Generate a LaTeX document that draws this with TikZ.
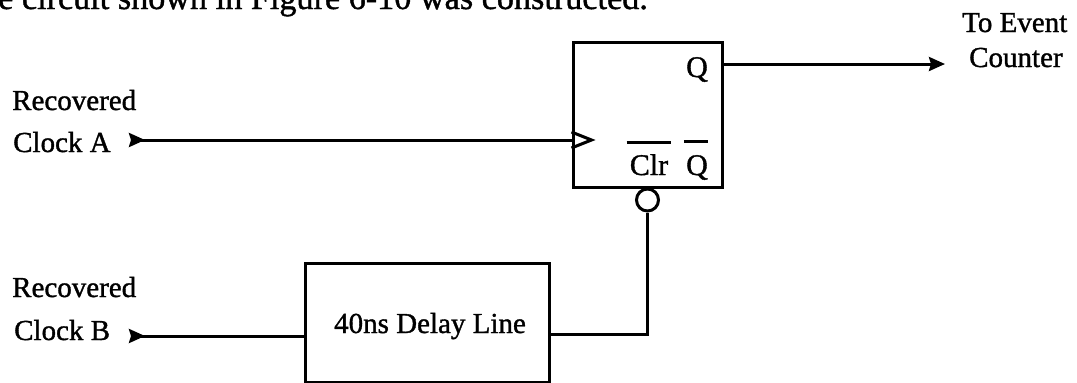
\documentclass[tikz,border=0pt]{standalone}
\usepackage{fontspec}
\setmainfont{Liberation Serif}[FakeBold=1.2]
\usetikzlibrary{arrows.meta, positioning}

\begin{document}
\begin{tikzpicture}[
  x=1pt, y=-1pt,
  box/.style={rectangle, draw=black, line width=3pt, inner sep=0pt},
  lbl/.style={font=\fontsize{29}{32}\selectfont, inner sep=0pt, anchor=base west},
  pin/.style={font=\fontsize{30}{32}\selectfont, inner sep=0pt, anchor=base},
  wire/.style={line width=3pt},
  arrow/.style={wire, -{Stealth[length=16pt, width=14pt, inset=2pt]}},
  inarrow/.style={wire, {Stealth[reversed, length=16pt, width=14pt, inset=2pt]}-}
]
  \useasboundingbox (0,0) rectangle (1077,383);
  \clip (0,0) rectangle (1077,383);

  \node[font=\fontsize{34.2}{36}\selectfont, inner sep=0pt, anchor=base west] (title) at (-2,9)
    {e circuit shown in Figure 6-10 was constructed.};

  \node[box, minimum width=149pt, minimum height=145pt] (ff) at (647.5,114.5) {};
  \node[box, minimum width=244pt, minimum height=119pt] (delay) at (427,322.5) {};
  \node[pin, font=\fontsize{29}{32}\selectfont] (delaytext) at (430,333) {40ns Delay Line};

  % inputs
  \node[lbl] (reca) at (12,110) {Recovered};
  \node[lbl] (clka) at (13,152) {Clock A};
  \node[lbl] (recb) at (12,297) {Recovered};
  \node[lbl] (clkb) at (14,340) {Clock B};

  % pins of the flip flop
  \node[pin] (q) at (697,77) {Q};
  \node[pin] (clr) at (649,175) {Clr};
  \node[pin] (qbar) at (697,175) {Q};
  \draw[wire] ([shift={(-3,-11)}]clr.north west) -- ([shift={(3,-11)}]clr.north east);
  \draw[wire] ([shift={(-2,-13)}]qbar.north west) -- ([shift={(0,-13)}]qbar.north east);
  \node[draw, circle, line width=3pt, minimum size=22pt, inner sep=0pt, below=-1pt of ff.south] (bubble) {};

  % outputs
  \node[lbl] (toev) at (962,32) {To Event};
  \node[lbl] (ctr) at (969,67) {Counter};

  \coordinate (ina) at (129,140);
  \coordinate (inb) at (129,336);
  \coordinate (clkpin) at (ff.west |- ina);
  \coordinate (outq) at (945,64);
  \coordinate (outd) at (delay.east |- 0,334);

  \draw[inarrow] (ina) -- (clkpin);
  \draw[wire, line join=miter] (clkpin) ++(0,-8) -- ++(20,8) -- ++(-20,8);
  \draw[arrow] (ff.east |- outq) -- (outq);
  \draw[inarrow] (inb) -- (delay.west |- inb);
  \draw[wire] (outd) -| (bubble.south);
\end{tikzpicture}
\end{document}
